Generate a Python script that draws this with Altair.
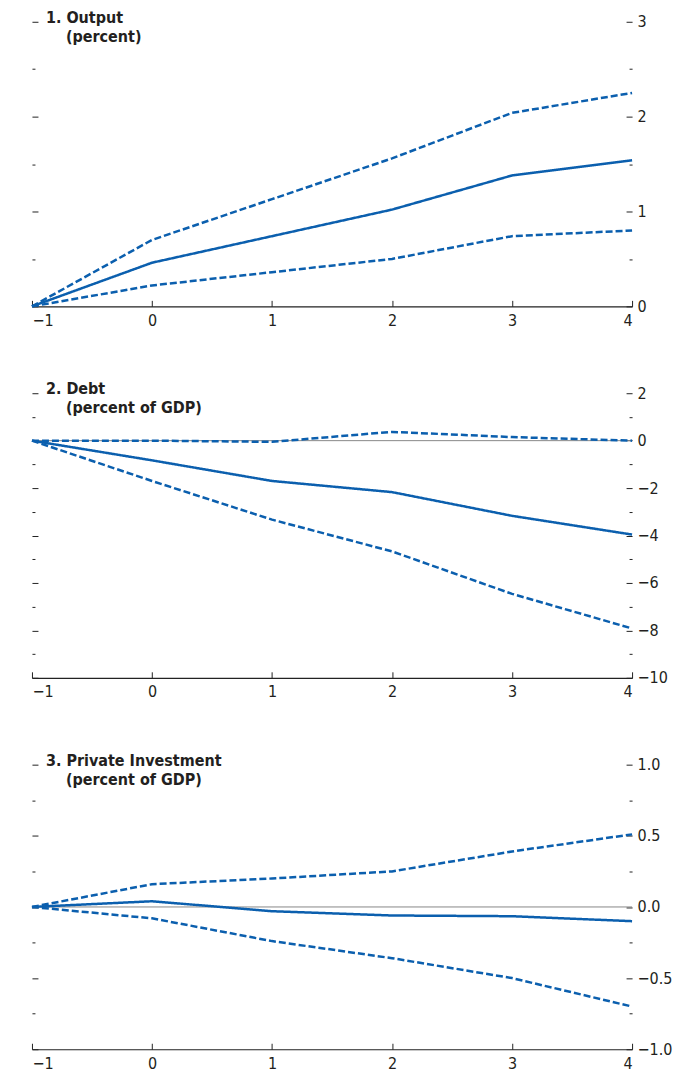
import altair as alt
import pandas as pd

years = [-1, 0, 1, 2, 3, 4]

output_mid = [0, 0.46, 0.74, 1.02, 1.38, 1.54]
output_hi = [0, 0.70, 1.13, 1.56, 2.04, 2.25]
output_lo = [0, 0.22, 0.36, 0.50, 0.74, 0.80]

debt_mid = [0, -0.83, -1.70, -2.17, -3.17, -3.96]
debt_hi = [0, 0.0, -0.05, 0.37, 0.15, 0.0]
debt_lo = [0, -1.70, -3.33, -4.67, -6.46, -7.92]

inv_mid = [0, 0.04, -0.03, -0.06, -0.065, -0.10]
inv_hi = [0, 0.16, 0.20, 0.25, 0.39, 0.51]
inv_lo = [0, -0.08, -0.24, -0.36, -0.50, -0.70]

BLUE = "#0b5fae"
FONT = "DejaVu Sans Condensed, Liberation Sans, sans-serif"
W, H = 601, 285


def make_df(mid, hi, lo):
    rows = []
    for name, vals in [("mid", mid), ("hi", hi), ("lo", lo)]:
        for x, v in zip(years, vals):
            rows.append({"year": x, "value": v, "series": name})
    return pd.DataFrame(rows)


def text_line(txt, x, y):
    return alt.Chart(pd.DataFrame({"t": [txt]})).mark_text(
        align="left", baseline="top", font=FONT, fontSize=16, fontWeight="bold",
        color="#231f20"
    ).encode(x=alt.value(x), y=alt.value(y), text="t:N")


def panel(df, title, subtitle, domain, major, minor, fmt, zero_line):
    xs = alt.Scale(domain=[-1, 4], nice=False)
    ys = alt.Scale(domain=domain, nice=False, zero=False)
    base = alt.Chart(df)

    lines = base.mark_line(strokeWidth=2.5, color=BLUE).encode(
        x=alt.X("year:Q", scale=xs, title=None,
                axis=alt.Axis(orient="bottom", values=years, ticks=False, domain=True,
                              grid=False, domainColor="#222", domainWidth=1.2,
                              labelPadding=6, format="d")),
        y=alt.Y("value:Q", scale=ys, title=None,
                axis=alt.Axis(orient="left", values=major, labels=False, domain=False,
                              grid=False, offset=-6, tickSize=6, tickColor="#222")),
        strokeDash=alt.StrokeDash("series:N", legend=None,
                                  scale=alt.Scale(domain=["mid", "hi", "lo"],
                                                  range=[[1, 0], [7, 3], [7, 3]])),
        detail="series:N",
    )
    ghost = base.mark_point(opacity=0)
    xticks = ghost.encode(
        x=alt.X("year:Q", scale=xs, title=None,
                axis=alt.Axis(orient="bottom", values=years, labels=False, domain=False,
                              grid=False, offset=-6, tickSize=6, tickColor="#222")),
        y=alt.Y("value:Q", scale=ys, title=None,
                axis=alt.Axis(orient="left", values=minor, labels=False, domain=False,
                              grid=False, offset=-3, tickSize=3, tickColor="#222")),
    )
    right_major = ghost.encode(
        x=alt.X("year:Q", scale=xs, axis=None),
        y=alt.Y("value:Q", scale=ys, title=None,
                axis=alt.Axis(orient="right", values=major, format=fmt, domain=False,
                              grid=False, offset=-6, tickSize=6, tickColor="#222",
                              labelPadding=5)),
    )
    right_minor = ghost.encode(
        x=alt.X("year:Q", scale=xs, axis=None),
        y=alt.Y("value:Q", scale=ys, title=None,
                axis=alt.Axis(orient="right", values=minor, labels=False, domain=False,
                              grid=False, offset=-3, tickSize=3, tickColor="#222")),
    )

    layers = []
    if zero_line:
        layers.append(alt.Chart(df).mark_rule(color="#888", strokeWidth=1).encode(
            y=alt.Y("z:Q", scale=ys, axis=None)
        ).transform_calculate(z="0").transform_filter("datum.year == -1 && datum.series == 'mid'"))
    layers += [lines, xticks, right_major, right_minor,
               text_line(title, 14, -12), text_line(subtitle, 34, 7)]
    return alt.layer(*layers).resolve_scale(x="independent", y="independent").properties(
        width=W, height=H)


p1 = panel(make_df(output_mid, output_hi, output_lo), "1. Output", "(percent)",
           [0, 3], [0, 1, 2, 3], [0.5, 1.5, 2.5], "d", False)
p2 = panel(make_df(debt_mid, debt_hi, debt_lo), "2. Debt", "(percent of GDP)",
           [-10, 2], [2, 0, -2, -4, -6, -8, -10], [1, -1, -3, -5, -7, -9], "d", True)
p3 = panel(make_df(inv_mid, inv_hi, inv_lo), "3. Private Investment", "(percent of GDP)",
           [-1, 1], [1, 0.5, 0, -0.5, -1], [0.75, 0.25, -0.25, -0.75], ".1f", True)

chart = alt.vconcat(p1, p2, p3, spacing=53).configure_view(stroke=None).configure_axis(
    labelFont=FONT, labelFontSize=16, labelColor="#231f20"
).properties(padding={"left": 19, "top": 1, "right": 5, "bottom": 5})

chart.save("out.html", embed_options={"renderer": "svg", "actions": False})
